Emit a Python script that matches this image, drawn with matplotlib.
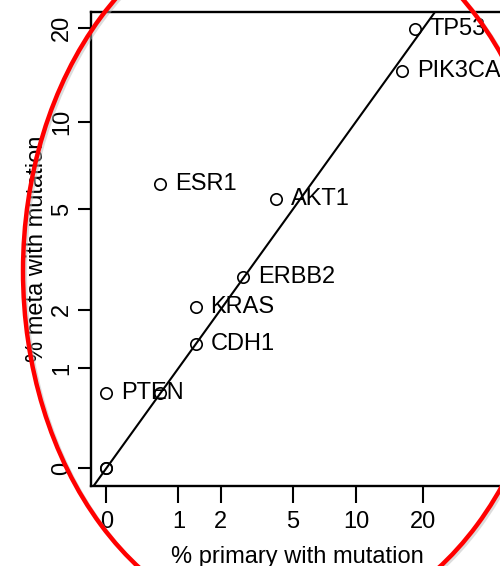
import numpy as np
import matplotlib
matplotlib.use("Agg")
import matplotlib.pyplot as plt
from matplotlib.patches import Ellipse

plt.rcParams["font.family"] = ["Liberation Sans", "DejaVu Sans"]

# Percent of samples carrying a mutation, primary tumour vs metastasis
genes = ["TP53", "PIK3CA", "ESR1", "AKT1", "ERBB2", "KRAS", "CDH1", "PTEN"]
pct_primary = [18.4, 16.2, 0.68, 4.1, 2.73, 1.36, 1.36, 0.0]
pct_meta = [19.9, 14.6, 6.15, 5.45, 2.75, 2.05, 1.36, 0.68]

# genes plotted without a label
extra_primary = [0.68, 0.0, 0.0]
extra_meta = [0.68, 0.0, 0.0]

tick_values = [0, 1, 2, 5, 10, 20]
tick_labels = ["0", "1", "2", "5", "10", "20"]

fig = plt.figure(figsize=(5.0, 5.66), dpi=100)
ax = fig.add_axes([0.182, 0.1413, 0.826, 0.8375])

# both axes on a log(x + 1) scale
ax.set_xscale("function", functions=(np.log1p, np.expm1))
ax.set_yscale("function", functions=(np.log1p, np.expm1))
ax.set_xlim(-0.1367, 44.6)
ax.set_ylim(-0.1153, 22.5)

mk = dict(marker="o", markersize=8.2, markerfacecolor="none",
          markeredgecolor="black", markeredgewidth=1.2, linestyle="none")
ax.plot(pct_primary, pct_meta, **mk)
ax.plot(extra_primary, extra_meta, **mk)

# identity line
ax.axline((0, 0), (20, 20), color="black", linewidth=1.5)

for g, xv, yv in zip(genes, pct_primary, pct_meta):
    ax.annotate(g, (xv, yv), xytext=(10.5, 0), textcoords="offset points",
                ha="left", va="center", fontsize=17)

ax.set_xticks(tick_values)
ax.set_xticklabels(tick_labels)
ax.set_yticks(tick_values)
ax.set_yticklabels(tick_labels, rotation=90, va="center")
ax.minorticks_off()
ax.tick_params(axis="x", length=12, width=1.5, pad=6, labelsize=17)
ax.tick_params(axis="y", length=9.7, width=1.5, pad=3, labelsize=17)

for side in ("left", "bottom", "top"):
    ax.spines[side].set_linewidth(1.7)
ax.spines["right"].set_visible(False)

ax.set_xlabel("% primary with mutation", fontsize=17, labelpad=9)
ax.set_ylabel("% meta with mutation", fontsize=17, labelpad=2.5)

# red highlight ring over the whole panel
shadow = Ellipse((291 / 500, 1 - 273 / 566), 532 / 500, 718 / 566,
                 transform=fig.transFigure, fill=False, edgecolor="#bbbbbb",
                 linewidth=3, alpha=0.5, clip_on=False)
ring = Ellipse((289 / 500, 1 - 271 / 566), 532 / 500, 718 / 566,
               transform=fig.transFigure, fill=False, edgecolor="#ff0000",
               linewidth=3.2, clip_on=False)
fig.add_artist(shadow)
fig.add_artist(ring)

fig.savefig("out.png", dpi=100)
